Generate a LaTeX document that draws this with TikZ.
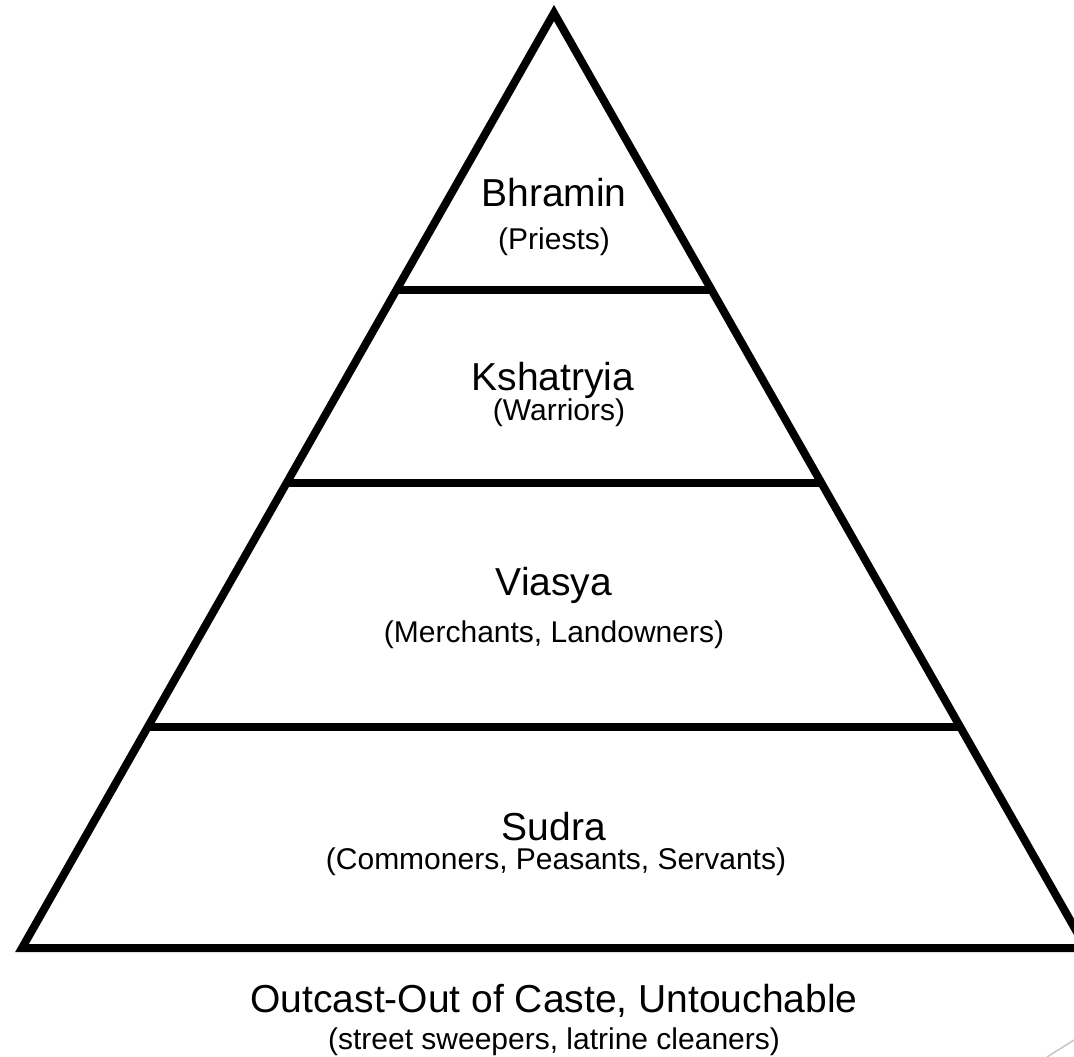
\documentclass[tikz,border=0pt]{standalone}
\usepackage{fontspec}
\setmainfont{Liberation Sans}
\usetikzlibrary{calc}
\begin{document}
\begin{tikzpicture}[x=1pt,y=-1pt,edge/.style={line width=8pt,line join=miter},caste/.style={font=\fontsize{39}{44}\selectfont,inner sep=0pt},role/.style={font=\fontsize{30}{34}\selectfont,inner sep=0pt}]
\useasboundingbox (0,0) rectangle (1074,1057);
\begin{scope}
\clip (0,0) rectangle (1074,1057);
\coordinate (apex) at (554,13);
\coordinate (bl) at (22,948);
\coordinate (br) at (1086,948);

\draw[edge] (apex) -- (bl) -- (br) -- cycle;
\draw[edge] ($(apex)!0.2963!(bl)$) -- ($(apex)!0.2963!(br)$);
\draw[edge] ($(apex)!0.5027!(bl)$) -- ($(apex)!0.5027!(br)$);
\draw[edge] ($(apex)!0.7636!(bl)$) -- ($(apex)!0.7636!(br)$);
\end{scope}

\node[caste] (bhr) at (554,193) {Bhramin};
\node[role] (bhrR) at (554,242) {(Priests)};

\node[caste] (ksh) at (553,380) {Kshatryia};
\node[role] (kshR) at (559,413) {(Warriors)};

\node[caste] (via) at (554,585) {Viasya};
\node[role] (viaR) at (554,635) {(Merchants, Landowners)};

\node[caste] (sud) at (554,827) {Sudra};
\node[role] (sudR) at (556,862) {(Commoners, Peasants, Servants)};

\node[caste] (out) at (554,1001) {Outcast-Out of Caste, Untouchable};
\node[role] (outR) at (554,1042) {(street sweepers, latrine cleaners)};

\draw[gray!45,line width=1.5pt] (1074,1040) -- (1047,1057);
\end{tikzpicture}
\end{document}
